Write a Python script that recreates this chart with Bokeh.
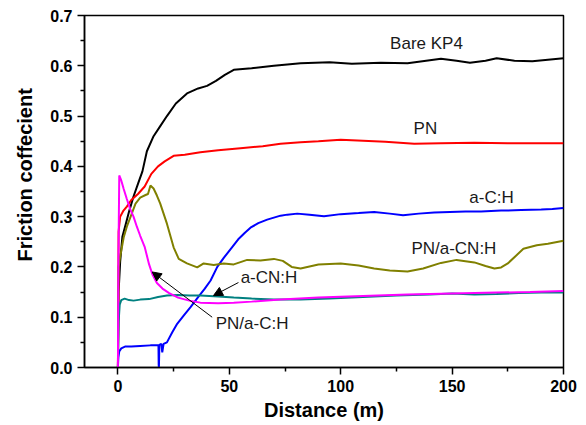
from bokeh.plotting import figure
from bokeh.models import Range1d, FixedTicker, PrintfTickFormatter, Label, Arrow, NormalHead
from bokeh.embed import file_html
from bokeh.resources import INLINE

# ---- data ----
bare_x = [0, 0.3, 1, 2, 3.5, 5, 7, 9, 11, 13, 16, 19, 22, 26, 31, 36, 40, 44, 48, 52, 60, 70, 82, 95,
          105, 118, 130, 145, 152, 158, 165, 170, 178, 186, 193, 200]
bare_y = [0.0, 0.15, 0.21, 0.26, 0.285, 0.31, 0.34, 0.365, 0.39, 0.43, 0.46, 0.48, 0.50, 0.525, 0.545,
          0.555, 0.56, 0.57, 0.582, 0.592, 0.595, 0.600, 0.605, 0.607, 0.604, 0.606, 0.605, 0.614,
          0.61, 0.606, 0.61, 0.615, 0.61, 0.609, 0.612, 0.615]

pn_x = [0, 0.3, 1, 2.5, 4, 6, 9, 12, 15, 18, 21, 25, 30, 37, 45, 55, 65, 73, 82, 90, 100, 110, 120,
        133, 145, 160, 175, 190, 200]
pn_y = [0, 0.27, 0.30, 0.312, 0.32, 0.333, 0.345, 0.36, 0.385, 0.40, 0.41, 0.421, 0.423, 0.428, 0.432,
        0.436, 0.44, 0.445, 0.448, 0.45, 0.453, 0.451, 0.449, 0.445, 0.446, 0.447, 0.446, 0.446, 0.446]

ach_x = [0, 0.2, 0.6, 1.5, 3.4, 6, 10, 14.6, 18.2, 18.3, 18.4, 18.6, 19.5, 19.9, 20.5, 22, 24.4, 26.6,
         29.5, 32.6, 36, 39, 41.6, 44.6, 47.5, 50.5, 54, 57, 59.5, 63, 67, 70, 73, 76, 80.5, 86, 92.5,
         100, 108, 115, 122, 128, 135, 142, 149, 156, 163, 172, 181, 190, 195, 200]
ach_y = [0, 0.02, 0.032, 0.038, 0.042, 0.042, 0.043, 0.044, 0.044, 0.005, 0.0, 0.045, 0.047, 0.03,
         0.047, 0.05, 0.07, 0.087, 0.103, 0.12, 0.14, 0.157, 0.173, 0.20, 0.218, 0.235, 0.255, 0.268,
         0.278, 0.287, 0.294, 0.298, 0.302, 0.304, 0.306, 0.304, 0.301, 0.305, 0.307, 0.309, 0.306,
         0.303, 0.306, 0.308, 0.309, 0.310, 0.310, 0.312, 0.313, 0.314, 0.315, 0.317]

pncn_x = [0, 0.3, 1, 2.6, 4, 5.7, 7.9, 10, 12.4, 13.5, 14.6, 16, 17.5, 19, 22, 25, 27.3, 31, 35.6, 38.5,
          43, 47.5, 52, 58, 64, 70, 74, 78, 82, 90, 100, 108, 115, 122, 130, 137, 145, 152, 160, 165,
          169, 172, 175, 182, 188, 193, 200]
pncn_y = [0, 0.2, 0.22, 0.259, 0.28, 0.30, 0.326, 0.338, 0.343, 0.345, 0.362, 0.356, 0.342, 0.326,
          0.286, 0.239, 0.216, 0.207, 0.199, 0.207, 0.204, 0.207, 0.205, 0.214, 0.213, 0.216, 0.212,
          0.200, 0.197, 0.205, 0.207, 0.203, 0.197, 0.193, 0.191, 0.197, 0.208, 0.214, 0.209, 0.202,
          0.197, 0.199, 0.207, 0.236, 0.243, 0.246, 0.252]

acn_x = [0, 0.3, 0.8, 1.5, 3, 5, 7, 10, 14, 18, 22, 27, 32, 37, 45, 52, 60, 70, 82, 95, 110, 125, 140,
         150, 160, 170, 180, 190, 200]
acn_y = [0, 0.09, 0.125, 0.134, 0.137, 0.134, 0.133, 0.135, 0.136, 0.14, 0.143, 0.144, 0.143, 0.143,
         0.141, 0.139, 0.137, 0.135, 0.135, 0.137, 0.14, 0.143, 0.145, 0.147, 0.145, 0.146, 0.148,
         0.149, 0.149]

pnach_x = [0, 0.2, 0.6, 1.5, 2.6, 4, 5.5, 7, 8.5, 10, 12, 14, 15.5, 17.5, 20, 23, 27, 32, 37, 45, 52,
           60, 73, 90, 110, 130, 150, 170, 185, 200]
pnach_y = [0, 0.2, 0.382, 0.372, 0.355, 0.335, 0.315, 0.30, 0.28, 0.262, 0.24, 0.205, 0.185, 0.168,
           0.157, 0.148, 0.139, 0.133, 0.129, 0.128, 0.129, 0.131, 0.135, 0.139, 0.142, 0.145, 0.147,
           0.149, 0.150, 0.152]

x_ticks = [0, 50, 100, 150, 200]
x_minor = [-25, 25, 75, 125, 175]
y_ticks = [0.0, 0.1, 0.2, 0.3, 0.4, 0.5, 0.6, 0.7]
y_minor = [0.05, 0.15, 0.25, 0.35, 0.45, 0.55, 0.65]

labels = ["Bare KP4", "PN", "a-C:H", "PN/a-CN:H", "a-CN:H", "PN/a-C:H"]
label_x = [138.5, 138, 167.7, 150.8, 67.8, 60.2]
label_y = [0.644, 0.475, 0.338, 0.237, 0.179, 0.088]

# arrows: (start x, start y, end x, end y)
arrow_acn = [54.1, 0.169, 42.9, 0.143]
arrow_pnach = [42.3, 0.100, 15.4, 0.190]

FONT = "Liberation Sans"

p = figure(width=586, height=425, output_backend="svg", toolbar_location=None,
           x_range=Range1d(-15, 200), y_range=Range1d(0, 0.7),
           min_border_left=84, min_border_right=23, min_border_top=15, min_border_bottom=58)
p.background_fill_color = "white"
p.border_fill_color = "white"
p.outline_line_color = "black"
p.outline_line_width = 1.5
p.xgrid.visible = False
p.ygrid.visible = False

series = [
    (bare_x, bare_y, "black"),
    (pn_x, pn_y, "#ff0000"),
    (ach_x, ach_y, "#0000ff"),
    (pncn_x, pncn_y, "#808000"),
    (acn_x, acn_y, "#008080"),
    (pnach_x, pnach_y, "#ff00ff"),
]
for xs, ys, c in series:
    p.line(xs, ys, line_color=c, line_width=2)

for ax in (p.xaxis[0], p.yaxis[0]):
    ax.axis_line_width = 1.5
    ax.axis_line_color = "black"
    ax.major_tick_line_width = 1.5
    ax.minor_tick_line_width = 1.5
    ax.major_tick_out = 7
    ax.major_tick_in = 0
    ax.minor_tick_out = 4
    ax.minor_tick_in = 0
    ax.major_label_text_font = FONT
    ax.major_label_text_font_style = "bold"
    ax.major_label_text_font_size = "16px"
    ax.major_label_text_color = "black"
    ax.axis_label_text_font = FONT
    ax.axis_label_text_font_style = "bold"
    ax.axis_label_text_font_size = "20px"
    ax.axis_label_text_color = "black"

p.xaxis[0].ticker = FixedTicker(ticks=x_ticks, minor_ticks=x_minor)
p.yaxis[0].ticker = FixedTicker(ticks=y_ticks, minor_ticks=y_minor)
p.yaxis[0].formatter = PrintfTickFormatter(format="%.1f")
p.xaxis[0].axis_label = "Distance (m)"
p.yaxis[0].axis_label = "\u00a0" * 6 + "Friction coffecient"
p.xaxis[0].major_label_standoff = 5
p.xaxis[0].axis_label_standoff = 4
p.yaxis[0].major_label_standoff = 5
p.yaxis[0].axis_label_standoff = 11

for t, lx, ly in zip(labels, label_x, label_y):
    p.add_layout(Label(x=lx, y=ly, text=t, text_font=FONT, text_font_size="17px",
                       text_color="#1a1a1a", text_align="center", text_baseline="middle"))

for a in (arrow_acn, arrow_pnach):
    p.add_layout(Arrow(x_start=a[0], y_start=a[1], x_end=a[2], y_end=a[3],
                       line_color="black", line_width=1,
                       end=NormalHead(size=9, fill_color="black", line_color="black")))

open("out.html", "w").write(file_html(p, INLINE))
